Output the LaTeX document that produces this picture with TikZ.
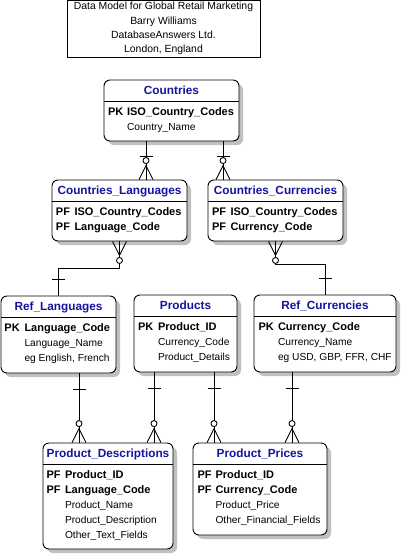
\documentclass[tikz,border=0pt]{standalone}
\usepackage{fontspec}
\setmainfont{Liberation Sans}
\usepackage{tikz}
\usetikzlibrary{decorations.markings,shadows}
\definecolor{hdrblue}{RGB}{20,20,160}
\definecolor{shadowgray}{RGB}{192,192,192}

\begin{document}
\begin{tikzpicture}[x=1pt,y=-1pt,line width=0.9pt,
		entity/.style={draw, rectangle, rounded corners=6pt, fill=white, inner sep=0pt,
			drop shadow={shadow xshift=4pt, shadow yshift=-4pt, fill=shadowgray, opacity=1}},
		titlebox/.style={draw, rectangle, align=center, inner sep=0pt, font=\fontsize{10.4}{14.3}\selectfont},
		entname/.style={anchor=base, inner sep=0pt, text=hdrblue, font=\fontsize{11.8}{14}\selectfont\bfseries},
		keytag/.style={anchor=base west, inner sep=0pt, font=\fontsize{11}{13}\selectfont\bfseries},
		keyfield/.style={keytag},
		field/.style={anchor=base west, inner sep=0pt, font=\fontsize{10.2}{12}\selectfont},
		zmany/.style={postaction={decorate, decoration={markings,
			mark=at position 0pt with {\draw (0,-7) -- (14,0) -- (0,7); \draw[fill=white] (19,0) circle [radius=3pt];}}}},
		onebar/.style={postaction={decorate, decoration={markings,
			mark=at position -16pt with {\draw (0,-6.5) -- (0,6.5);}}}},
		idbar/.style={postaction={decorate, decoration={markings,
			mark=at position 23pt with {\draw (0,-6.5) -- (0,6.5);}}}}
	]
		\useasboundingbox (0,0) rectangle (401,555);
		
		\node[titlebox, minimum width=193pt, minimum height=56.5pt] (credits) at (163.5,28.75) {Data Model for Global Retail Marketing\\Barry Williams\\DatabaseAnswers Ltd.\\London, England};
		
		% entities
		\node[entity, minimum width=135pt, minimum height=61pt] (countries) at (171.5,110.5) {};
		\node[entity, minimum width=135pt, minimum height=61pt] (cntlang) at (119.5,210.5) {};
		\node[entity, minimum width=135pt, minimum height=61pt] (cntcur) at (275.5,210.5) {};
		\node[entity, minimum width=115pt, minimum height=77pt] (reflang) at (58.5,334.5) {};
		\node[entity, minimum width=103pt, minimum height=77pt] (products) at (185.5,333.5) {};
		\node[entity, minimum width=142pt, minimum height=77pt] (refcur) at (325,333.5) {};
		\node[entity, minimum width=130pt, minimum height=106pt] (proddesc) at (108,496) {};
		\node[entity, minimum width=134pt, minimum height=92pt] (prodprice) at (260,489) {};
		
		\draw ([yshift=-21.5pt]countries.north west) -- ([yshift=-21.5pt]countries.north east);
		\node[entname] (countries-t) at ([yshift=-15pt]countries.north) {Countries};
		\node[keytag] (countries-k1) at ([xshift=4pt,yshift=-36pt]countries.north west) {PK};
		\node[keyfield] (countries-f1) at ([xshift=23pt,yshift=-36pt]countries.north west) {ISO\_Country\_Codes};
		\node[field] (countries-f2) at ([xshift=23pt,yshift=-51pt]countries.north west) {Country\_Name};
		
		\draw ([yshift=-21.5pt]cntlang.north west) -- ([yshift=-21.5pt]cntlang.north east);
		\node[entname] (cntlang-t) at ([yshift=-15pt]cntlang.north) {Countries\_Languages};
		\node[keytag] (cntlang-k1) at ([xshift=4pt,yshift=-36pt]cntlang.north west) {PF};
		\node[keyfield] (cntlang-f1) at ([xshift=22.5pt,yshift=-36pt]cntlang.north west) {ISO\_Country\_Codes};
		\node[keytag] (cntlang-k2) at ([xshift=4pt,yshift=-51pt]cntlang.north west) {PF};
		\node[keyfield] (cntlang-f2) at ([xshift=22.5pt,yshift=-51pt]cntlang.north west) {Language\_Code};
		
		\draw ([yshift=-21.5pt]cntcur.north west) -- ([yshift=-21.5pt]cntcur.north east);
		\node[entname] (cntcur-t) at ([yshift=-15pt]cntcur.north) {Countries\_Currencies};
		\node[keytag] (cntcur-k1) at ([xshift=4pt,yshift=-36pt]cntcur.north west) {PF};
		\node[keyfield] (cntcur-f1) at ([xshift=22.5pt,yshift=-36pt]cntcur.north west) {ISO\_Country\_Codes};
		\node[keytag] (cntcur-k2) at ([xshift=4pt,yshift=-51pt]cntcur.north west) {PF};
		\node[keyfield] (cntcur-f2) at ([xshift=22.5pt,yshift=-51pt]cntcur.north west) {Currency\_Code};
		
		\draw ([yshift=-21.5pt]reflang.north west) -- ([yshift=-21.5pt]reflang.north east);
		\node[entname] (reflang-t) at ([yshift=-15pt]reflang.north) {Ref\_Languages};
		\node[keytag] (reflang-k1) at ([xshift=3.5pt,yshift=-36pt]reflang.north west) {PK};
		\node[keyfield] (reflang-f1) at ([xshift=23.5pt,yshift=-36pt]reflang.north west) {Language\_Code};
		\node[field] (reflang-f2) at ([xshift=23.5pt,yshift=-51pt]reflang.north west) {Language\_Name};
		\node[field] (reflang-f3) at ([xshift=23.5pt,yshift=-66pt]reflang.north west) {eg English, French};
		
		\draw ([yshift=-21.5pt]products.north west) -- ([yshift=-21.5pt]products.north east);
		\node[entname] (products-t) at ([yshift=-15pt]products.north) {Products};
		\node[keytag] (products-k1) at ([xshift=4pt,yshift=-36pt]products.north west) {PK};
		\node[keyfield] (products-f1) at ([xshift=24pt,yshift=-36pt]products.north west) {Product\_ID};
		\node[field] (products-f2) at ([xshift=24pt,yshift=-51pt]products.north west) {Currency\_Code};
		\node[field] (products-f3) at ([xshift=24pt,yshift=-66pt]products.north west) {Product\_Details};
		
		\draw ([yshift=-21.5pt]refcur.north west) -- ([yshift=-21.5pt]refcur.north east);
		\node[entname] (refcur-t) at ([yshift=-15pt]refcur.north) {Ref\_Currencies};
		\node[keytag] (refcur-k1) at ([xshift=4.5pt,yshift=-36pt]refcur.north west) {PK};
		\node[keyfield] (refcur-f1) at ([xshift=24pt,yshift=-36pt]refcur.north west) {Currency\_Code};
		\node[field] (refcur-f2) at ([xshift=24pt,yshift=-51pt]refcur.north west) {Currency\_Name};
		\node[field] (refcur-f3) at ([xshift=24pt,yshift=-66pt]refcur.north west) {eg USD, GBP, FFR, CHF};
		
		\draw ([yshift=-21.5pt]proddesc.north west) -- ([yshift=-21.5pt]proddesc.north east);
		\node[entname] (proddesc-t) at ([yshift=-15pt]proddesc.north) {Product\_Descriptions};
		\node[keytag] (proddesc-k1) at ([xshift=3.5pt,yshift=-36pt]proddesc.north west) {PF};
		\node[keyfield] (proddesc-f1) at ([xshift=22pt,yshift=-36pt]proddesc.north west) {Product\_ID};
		\node[keytag] (proddesc-k2) at ([xshift=3.5pt,yshift=-51pt]proddesc.north west) {PF};
		\node[keyfield] (proddesc-f2) at ([xshift=22pt,yshift=-51pt]proddesc.north west) {Language\_Code};
		\node[field] (proddesc-f3) at ([xshift=22pt,yshift=-66pt]proddesc.north west) {Product\_Name};
		\node[field] (proddesc-f4) at ([xshift=22pt,yshift=-81pt]proddesc.north west) {Product\_Description};
		\node[field] (proddesc-f5) at ([xshift=22pt,yshift=-96pt]proddesc.north west) {Other\_Text\_Fields};
		
		\draw ([yshift=-21.5pt]prodprice.north west) -- ([yshift=-21.5pt]prodprice.north east);
		\node[entname] (prodprice-t) at ([yshift=-15pt]prodprice.north) {Product\_Prices};
		\node[keytag] (prodprice-k1) at ([xshift=4.5pt,yshift=-36pt]prodprice.north west) {PF};
		\node[keyfield] (prodprice-f1) at ([xshift=22.5pt,yshift=-36pt]prodprice.north west) {Product\_ID};
		\node[keytag] (prodprice-k2) at ([xshift=4.5pt,yshift=-51pt]prodprice.north west) {PF};
		\node[keyfield] (prodprice-f2) at ([xshift=22.5pt,yshift=-51pt]prodprice.north west) {Currency\_Code};
		\node[field] (prodprice-f3) at ([xshift=22.5pt,yshift=-66pt]prodprice.north west) {Product\_Price};
		\node[field] (prodprice-f4) at ([xshift=22.5pt,yshift=-81pt]prodprice.north west) {Other\_Financial\_Fields};
		
		% relationships
		\coordinate (cntlang-up) at ([xshift=26.5pt]cntlang.north);
		\coordinate (cntcur-up) at ([xshift=-52.5pt]cntcur.north);
		\coordinate (proddesc-l) at ([xshift=-29pt]proddesc.north);
		\coordinate (proddesc-r) at ([xshift=46pt]proddesc.north);
		\coordinate (prodprice-l) at ([xshift=-46pt]prodprice.north);
		\coordinate (prodprice-r) at ([xshift=32pt]prodprice.north);
		
		\draw[zmany, idbar] (cntlang-up) -- (cntlang-up |- countries.south);
		\draw[zmany, idbar] (cntcur-up) -- (cntcur-up |- countries.south);
		\draw[zmany, onebar] (cntlang.south) -- ++(0,27) -| (reflang.north);
		\draw[zmany, onebar] (cntcur.south) -- ++(0,23) -| (refcur.north);
		\draw[zmany, onebar] (proddesc-l) -- (proddesc-l |- reflang.south);
		\draw[zmany, onebar] (proddesc-r) -- (proddesc-r |- products.south);
		\draw[zmany, onebar] (prodprice-l) -- (prodprice-l |- products.south);
		\draw[zmany, onebar] (prodprice-r) -- (prodprice-r |- refcur.south);
\end{tikzpicture}
\end{document}
